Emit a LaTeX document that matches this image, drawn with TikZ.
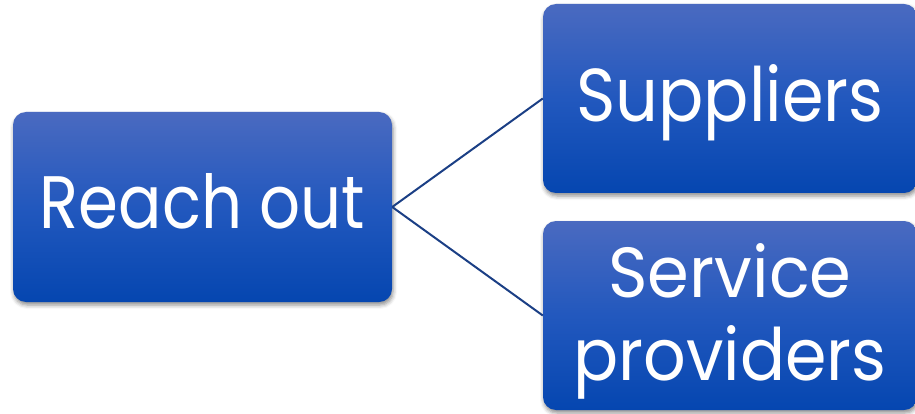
\documentclass[tikz,border=0pt]{standalone}
\usepackage{fontspec}
\setmainfont{Poppins}
\usetikzlibrary{shadows.blur}
\definecolor{boxtop}{RGB}{74,106,192}
\definecolor{boxmid}{RGB}{34,88,190}
\definecolor{boxbot}{RGB}{5,70,176}
\definecolor{linkcol}{RGB}{27,63,133}
\tikzset{
  tile/.style={rectangle, rounded corners=13pt, inner sep=0pt,
    top color=boxtop, bottom color=boxbot, middle color=boxmid,
    text=white, align=center,
    blur shadow={shadow xshift=1pt, shadow yshift=-3pt, shadow blur radius=4pt, shadow opacity=45}},
  link/.style={draw=linkcol, line width=2pt}
}
\begin{document}
\begin{tikzpicture}[x=1pt,y=1pt]
\useasboundingbox (0,0) rectangle (915,-414);
\node[tile, minimum width=379pt, minimum height=190pt] (reach) at (202.5,-207)
  {\raisebox{0pt}[55pt][11pt]{\resizebox{325pt}{55pt}{Reach out}}};
\node[tile, minimum width=374pt, minimum height=189pt] (supp) at (730,-98.5)
  {\raisebox{0pt}[57pt][10pt]{\resizebox{307pt}{57pt}{Suppliers}}};
\node[tile, minimum width=374pt, minimum height=189pt, font={\fontsize{80pt}{83pt}\selectfont}] (serv) at (730,-315.5)
  {\raisebox{0pt}[54pt][0pt]{\resizebox{243pt}{54pt}{Service}}\\\raisebox{0pt}[55pt][8pt]{\resizebox{313pt}{55pt}{providers}}};
\draw[link] (reach.east) -- (supp.west);
\draw[link] (reach.east) -- (serv.west);
\end{tikzpicture}
\end{document}
